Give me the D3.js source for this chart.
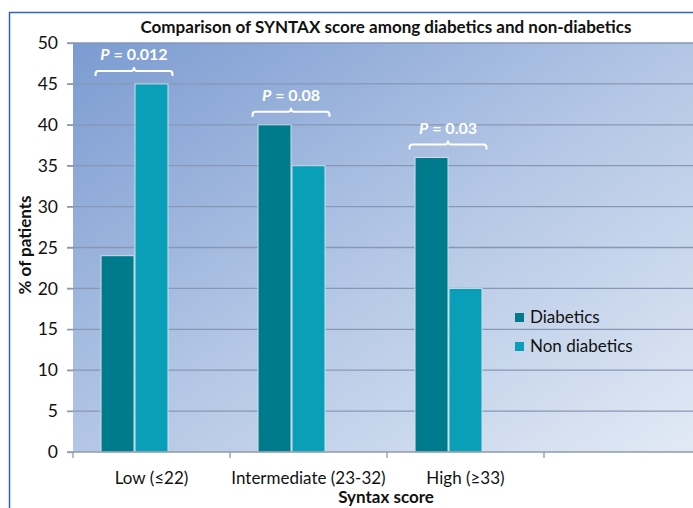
<!DOCTYPE html>
<html>
<head>
<meta charset="utf-8">
<script src="https://cdn.jsdelivr.net/npm/d3@7"></script>
<style>
  body { margin: 0; background: #fff; }
  text { font-family: Lato, "Open Sans", sans-serif; }
</style>
</head>
<body>
<svg id="chart" width="693" height="508"></svg>
<script>
// data
const categories = ["Low (≤22)", "Intermediate (23-32)", "High (≥33)"];
const seriesNames = ["Diabetics", "Non diabetics"];
const diabetics = [24, 40, 36];
const nonDiabetics = [45, 35, 20];
const pValues = ["0.012", "0.08", "0.03"];
const yTicks = [0, 5, 10, 15, 20, 25, 30, 35, 40, 45, 50];

const colors = ["#007b8e", "#0a9fb8"];

const svg = d3.select("#chart");
const plotL = 73, plotR = 701, plotT = 43, plotB = 452;

// outer frame
svg.append("path")
    .attr("d", `M693,12.5 H9.5 V508`)
    .attr("fill", "none")
    .attr("stroke", "#3162b5")
    .attr("stroke-width", 1.5);

// plot area gradient
const defs = svg.append("defs");
const grad = defs.append("linearGradient")
    .attr("id", "bg")
    .attr("x1", 0).attr("y1", 0).attr("x2", 1).attr("y2", 1);
grad.append("stop").attr("offset", "0%").attr("stop-color", "#7b9bd1");
grad.append("stop").attr("offset", "50%").attr("stop-color", "#b3c6e5");
grad.append("stop").attr("offset", "100%").attr("stop-color", "#e2eaf5");

svg.append("rect")
    .attr("x", plotL).attr("y", plotT)
    .attr("width", plotR - plotL).attr("height", plotB - plotT)
    .attr("fill", "url(#bg)");

// scales
const axisCats = categories.concat([" "]);
const x0 = d3.scaleBand().domain(axisCats).range([plotL, plotR]).padding(0);
// third slot is an empty series, as in the original spreadsheet chart
const x1 = d3.scaleBand()
    .domain(seriesNames.concat(["_"]))
    .range([0, x0.bandwidth()])
    .paddingInner(0).paddingOuter(0.81);
const y = d3.scaleLinear().domain([0, 50]).range([plotB, plotT]);

// grid
svg.append("g")
    .selectAll("line")
    .data(yTicks.filter(d => d > 0))
    .join("line")
    .attr("x1", plotL - 6).attr("x2", plotR)
    .attr("y1", d => y(d)).attr("y2", d => y(d))
    .attr("stroke", "#8797b4")
    .attr("stroke-width", 1.3);

// y axis
const yAxis = svg.append("g")
    .attr("transform", `translate(${plotL},0)`)
    .call(d3.axisLeft(y).tickValues(yTicks).tickSize(6).tickPadding(9));
yAxis.select(".domain").remove();
yAxis.selectAll(".tick line").attr("stroke", "#8f9aab").attr("stroke-width", 1.3);
yAxis.selectAll(".tick text")
    .attr("font-size", 17.5)
    .attr("fill", "#111")
    .style("font-family", "Lato, sans-serif");

// bars
const rows = categories.map((c, i) => ({ cat: c, vals: [diabetics[i], nonDiabetics[i]] }));
const groups = svg.append("g")
    .selectAll("g")
    .data(rows)
    .join("g")
    .attr("transform", d => `translate(${x0(d.cat)},0)`);
groups.selectAll("rect")
    .data(d => d.vals.map((v, j) => ({ key: seriesNames[j], v, j })))
    .join("rect")
    .attr("x", d => x1(d.key) + 0.5)
    .attr("width", x1.bandwidth() - 1)
    .attr("y", d => y(d.v))
    .attr("height", d => y(0) - y(d.v))
    .attr("fill", d => colors[d.j])
    .attr("stroke", "#cfe0e6")
    .attr("stroke-width", 1);

// x axis
const xAxis = svg.append("g")
    .attr("transform", `translate(0,${plotB})`);
xAxis.append("line")
    .attr("x1", plotL - 6).attr("x2", plotR)
    .attr("stroke", "#8f9aab").attr("stroke-width", 1.3);
xAxis.selectAll("line.tk")
    .data(axisCats)
    .join("line")
    .attr("class", "tk")
    .attr("x1", d => x0(d)).attr("x2", d => x0(d))
    .attr("y1", 0).attr("y2", 6)
    .attr("stroke", "#8f9aab").attr("stroke-width", 1.3);
xAxis.selectAll("text")
    .data(categories)
    .join("text")
    .attr("x", d => x0(d) + x0.bandwidth() / 2)
    .attr("y", 32)
    .attr("text-anchor", "middle")
    .attr("font-size", 17)
    .attr("fill", "#111")
    .text(d => d);

// p-value brackets
const ann = svg.append("g");
rows.forEach((r, i) => {
    const gx = x0(r.cat) + x1(seriesNames[0]);
    const gw = 2 * x1.bandwidth();
    const x1b = gx - 5, x2b = gx + gw + 4;
    const cx = (x1b + x2b) / 2;
    const ly = y(d3.max(r.vals)) - 13;
    ann.append("path")
        .attr("d", `M${x1b},${ly + 5} V${ly + 3} Q${x1b},${ly} ${x1b + 3},${ly} H${cx - 3} Q${cx},${ly} ${cx},${ly - 4} Q${cx},${ly} ${cx + 3},${ly} H${x2b - 3} Q${x2b},${ly} ${x2b},${ly + 3} V${ly + 5}`)
        .attr("fill", "none")
        .attr("stroke", "#fff")
        .attr("stroke-width", 2);
    const t = ann.append("text")
        .attr("x", cx)
        .attr("y", ly - 11)
        .attr("text-anchor", "middle")
        .attr("font-size", 16)
        .attr("font-weight", "bold")
        .attr("fill", "#fff");
    t.append("tspan").attr("font-style", "italic").text("P");
    t.append("tspan").text(" = " + pValues[i]);
});

// legend
const leg = svg.append("g").attr("transform", "translate(515,313)");
seriesNames.forEach((s, i) => {
    leg.append("rect")
        .attr("x", 0).attr("y", i * 29)
        .attr("width", 9).attr("height", 9)
        .attr("fill", colors[i]);
    leg.append("text")
        .attr("x", 15).attr("y", i * 29 + 10)
        .attr("font-size", 17)
        .attr("fill", "#111")
        .text(s);
});

// titles
svg.append("text")
    .attr("x", 386).attr("y", 33)
    .attr("text-anchor", "middle")
    .attr("font-size", 17)
    .attr("font-weight", "bold")
    .attr("fill", "#111")
    .text("Comparison of SYNTAX score among diabetics and non-diabetics");

svg.append("text")
    .attr("x", 386).attr("y", 503)
    .attr("text-anchor", "middle")
    .attr("font-size", 17)
    .attr("font-weight", "bold")
    .attr("fill", "#111")
    .text("Syntax score");

svg.append("text")
    .attr("transform", "translate(31,245) rotate(-90)")
    .attr("text-anchor", "middle")
    .attr("font-size", 17)
    .attr("font-weight", "bold")
    .attr("fill", "#111")
    .text("% of patients");
</script>
</body>
</html>
